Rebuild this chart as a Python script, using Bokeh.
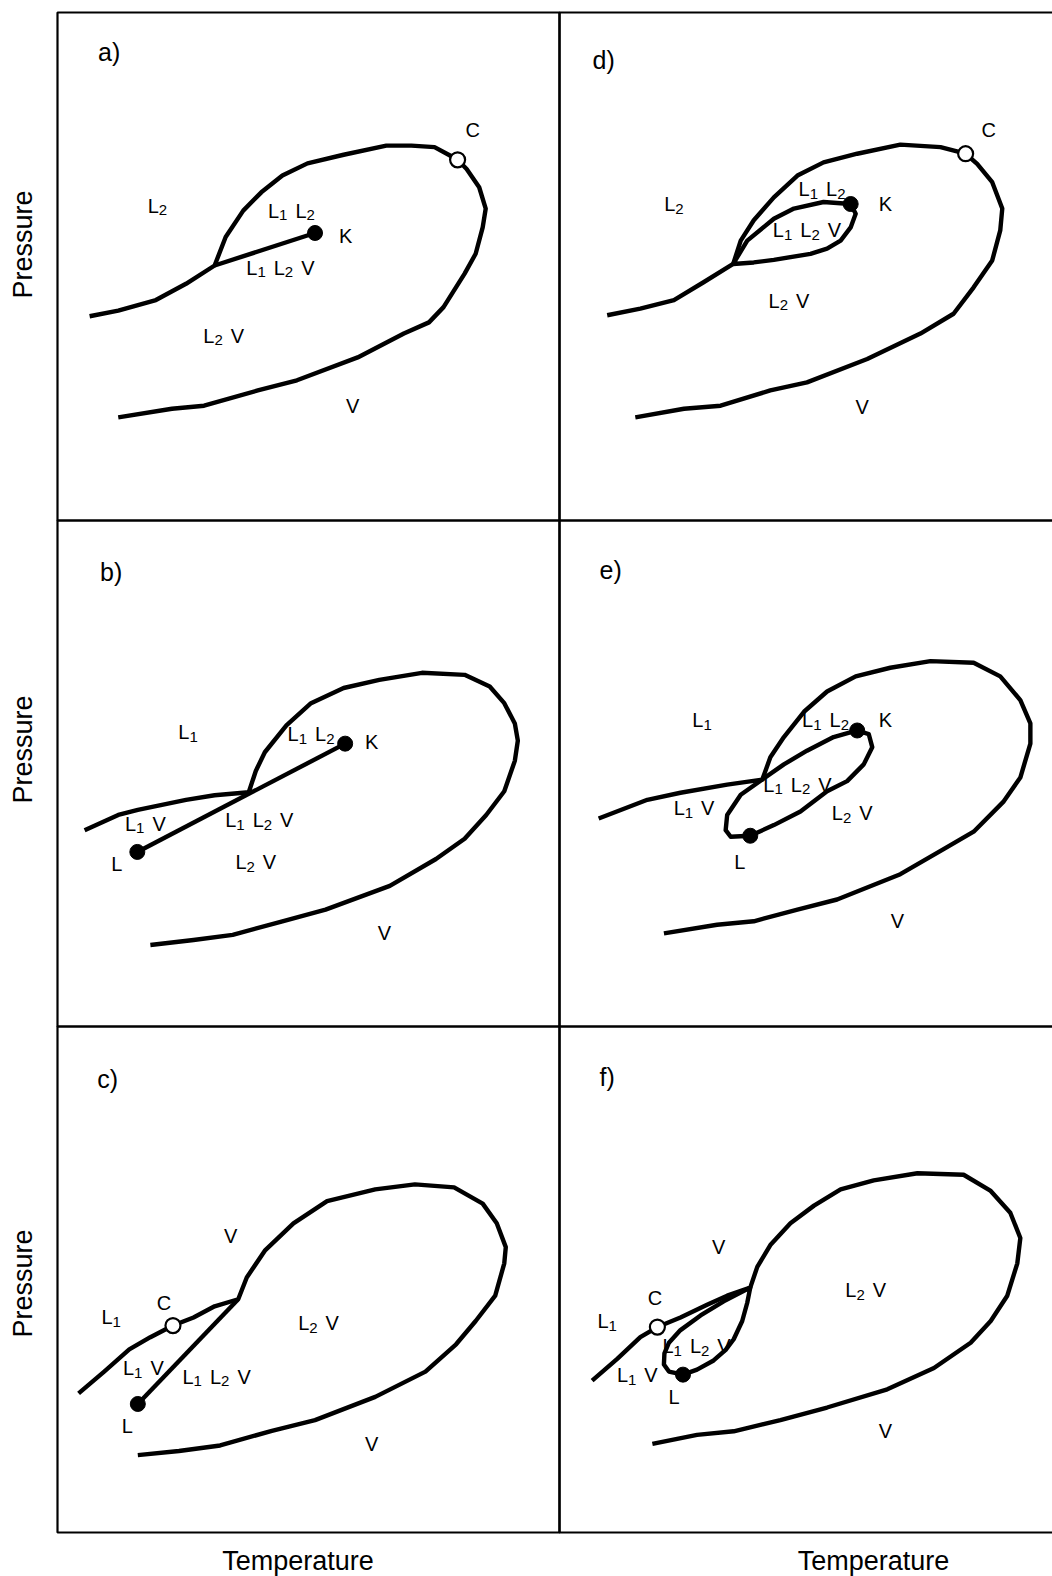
import math
from bokeh.plotting import figure
from bokeh.models import Range1d, ColumnDataSource
from bokeh.core.properties import value
from bokeh.embed import file_html
from bokeh.resources import INLINE

# Schematic P-T projections of a binary system with liquid-liquid immiscibility.
# Temperature (T) and pressure (P) are arbitrary units, 0-100 across each panel.

# ---------- a) ----------
a_env_T = [6.4, 12.1, 19.6, 25.6, 31.3, 33.5, 37.0, 40.6, 44.8, 49.8, 57.0, 65.5, 70.5, 75.1, 78.1, 79.7,
           81.5, 84.0, 85.3, 84.7, 83.3, 81.1, 76.9, 74.0, 69.0, 59.8, 47.7, 39.9, 29.2, 22.8, 12.1]
a_env_P = [40.2, 41.3, 43.4, 46.6, 50.2, 55.8, 61.0, 64.6, 67.9, 70.3, 72.0, 73.8, 73.8, 73.5, 71.9, 71.0,
           69.2, 65.6, 61.4, 57.7, 52.5, 48.6, 42.0, 39.0, 36.8, 32.1, 27.6, 25.6, 22.6, 22.0, 20.3]
a_3ph_T = [31.3, 51.3]
a_3ph_P = [50.2, 56.6]
a_open_T, a_open_P = [79.7], [71.0]
a_solid_T, a_solid_P = [51.3], [56.6]
a_lab = ["C", "L2", "L1 L2", "K", "L1 L2 V", "L2 V", "V"]
a_lab_T = [82.7, 19.9, 46.6, 57.4, 44.4, 33.1, 58.8]
a_lab_P = [76.8, 62.0, 61.0, 56.1, 49.8, 36.4, 22.6]

# ---------- b) ----------
b_env_T = [5.4, 12.1, 16.0, 25.6, 31.3, 38.1, 39.5, 41.3, 45.6, 50.5, 57.0, 64.1, 72.6, 81.1, 86.1, 89.0,
           91.1, 91.7, 91.1, 89.0, 85.4, 81.1, 75.4, 66.2, 53.4, 44.8, 34.9, 27.1, 18.5]
b_env_P = [38.8, 41.8, 42.8, 44.8, 45.7, 46.3, 50.5, 54.2, 59.5, 63.9, 66.9, 68.5, 69.9, 69.5, 67.2, 63.9,
           59.9, 56.5, 52.5, 46.5, 41.8, 37.1, 33.1, 27.8, 23.1, 20.8, 18.1, 17.1, 16.1]
b_3ph_T = [15.9, 57.3]
b_3ph_P = [34.5, 55.9]
b_open_T, b_open_P = [], []
b_solid_T, b_solid_P = [15.9, 57.3], [34.5, 55.9]
b_lab = ["L1", "L1 L2", "K", "L1 V", "L1 L2 V", "L", "L2 V", "V"]
b_lab_T = [26.0, 50.5, 62.6, 17.5, 40.2, 11.8, 39.5, 65.1]
b_lab_P = [58.2, 57.8, 56.2, 40.1, 40.8, 32.1, 32.5, 18.4]

# ---------- c) ----------
c_env_T = [4.2, 9.3, 14.3, 18.5, 23.0, 27.1, 31.3, 36.0, 37.7, 41.3, 47.0, 53.7, 63.3, 71.2, 79.0, 84.7,
           87.5, 89.3, 89.0, 87.2, 83.3, 79.4, 73.3, 63.3, 51.3, 42.7, 32.4, 24.2, 16.0]
c_env_P = [27.5, 31.8, 36.2, 38.6, 40.9, 42.5, 44.7, 46.1, 50.4, 55.7, 61.1, 65.5, 67.8, 68.8, 68.2, 65.0,
           61.1, 56.4, 53.2, 46.8, 41.8, 37.2, 31.8, 26.8, 22.2, 20.1, 17.2, 16.1, 15.3]
c_3ph_T = [16.0, 36.0]
c_3ph_P = [25.4, 46.1]
c_open_T, c_open_P = [23.0], [40.9]
c_solid_T, c_solid_P = [16.0], [25.4]
c_lab = ["V", "C", "L1", "L2 V", "L1 V", "L1 L2 V", "L", "V"]
c_lab_T = [34.5, 21.2, 10.7, 52.0, 17.1, 31.7, 13.9, 62.6]
c_lab_P = [58.6, 45.4, 42.5, 41.4, 32.5, 30.8, 21.1, 17.5]

# ---------- d) ----------
d_env_T = [9.5, 16.1, 22.8, 28.7, 34.6, 36.1, 38.7, 42.7, 47.4, 52.6, 59.3, 67.9, 75.9, 80.9, 83.2, 86.2,
           88.2, 87.8, 86.2, 82.5, 78.5, 71.9, 61.3, 49.3, 42.0, 32.1, 24.8, 15.1]
d_env_P = [40.4, 41.7, 43.4, 46.9, 50.5, 55.1, 59.1, 63.6, 67.9, 70.5, 72.2, 74.0, 73.5, 72.2, 70.2, 66.6,
           61.4, 57.1, 51.2, 45.9, 40.7, 36.8, 31.8, 27.2, 25.6, 22.6, 22.0, 20.3]
d_3ph_T = [34.6, 37.4, 42.7, 46.7, 52.6, 58.0, 59.0, 58.0, 56.0, 53.3, 50.0, 42.7, 38.7, 34.6]
d_3ph_P = [50.5, 55.1, 59.4, 61.4, 62.7, 62.3, 60.4, 57.7, 55.1, 53.5, 52.5, 51.3, 50.8, 50.5]
d_open_T, d_open_P = [80.9], [72.2]
d_solid_T, d_solid_P = [58.0], [62.3]
d_lab = ["C", "L2", "L1 L2", "K", "L1 L2 V", "L2 V", "V"]
d_lab_T = [85.5, 22.8, 52.3, 64.9, 49.3, 45.7, 60.3]
d_lab_P = [76.8, 62.3, 65.3, 62.3, 57.1, 43.3, 22.3]

# ---------- e) ----------
e_env_T = [7.8, 17.5, 24.1, 33.4, 40.4, 42.0, 44.7, 48.7, 53.3, 59.0, 65.9, 73.9, 82.5, 87.8, 91.8, 93.8,
           93.8, 91.8, 88.5, 82.5, 76.6, 67.9, 55.3, 47.4, 38.7, 31.4, 20.8]
e_env_P = [41.1, 44.8, 46.2, 47.8, 48.8, 53.2, 57.2, 62.2, 66.2, 69.2, 70.9, 72.2, 71.9, 69.2, 64.5, 59.9,
           55.9, 49.2, 44.5, 38.5, 35.1, 30.1, 25.1, 23.1, 20.8, 20.1, 18.4]
e_3ph_T = [38.0, 34.1, 33.1, 33.4, 36.1, 40.4, 44.7, 49.3, 54.6, 59.3, 61.6, 62.3, 60.6, 57.3, 53.3, 48.0,
           42.7, 38.0]
e_3ph_P = [37.7, 37.5, 38.8, 41.8, 45.8, 48.8, 51.8, 54.5, 57.2, 58.5, 57.8, 55.2, 51.8, 48.5, 46.5, 42.5,
           39.8, 37.7]
e_open_T, e_open_P = [], []
e_solid_T, e_solid_P = [38.0, 59.3], [37.7, 58.5]
e_lab = ["L1", "L1 L2", "K", "L1 L2 V", "L1 V", "L2 V", "L", "V"]
e_lab_T = [28.4, 53.0, 64.9, 47.4, 26.8, 58.3, 35.9, 67.3]
e_lab_P = [60.5, 60.5, 60.5, 47.8, 43.2, 42.2, 32.5, 20.8]

# ---------- f) ----------
f_env_T = [6.5, 11.5, 16.1, 19.5, 24.1, 29.4, 33.4, 38.0, 39.4, 42.0, 46.0, 50.7, 56.0, 62.6, 71.3, 80.5,
           85.9, 89.8, 91.8, 91.2, 89.2, 85.9, 81.9, 74.6, 65.3, 53.3, 44.0, 34.7, 27.4, 18.5]
f_env_P = [30.0, 34.3, 38.6, 40.6, 42.5, 45.0, 46.8, 48.4, 52.5, 56.8, 61.1, 64.6, 67.8, 69.6, 71.0, 70.7,
           67.5, 63.2, 58.2, 53.2, 46.8, 41.8, 37.5, 32.5, 28.3, 24.7, 22.2, 20.0, 19.3, 17.5]
f_3ph_T = [24.6, 21.8, 20.8, 20.9, 21.8, 24.1, 28.1, 32.7, 38.0, 37.4, 36.4, 34.7, 33.1, 30.7, 27.4, 24.6]
f_3ph_P = [31.2, 31.8, 33.2, 35.4, 37.5, 40.0, 42.9, 45.7, 48.4, 45.4, 41.8, 38.2, 36.1, 34.0, 32.2, 31.2]
f_open_T, f_open_P = [19.5], [40.6]
f_solid_T, f_solid_P = [24.6], [31.2]
f_lab = ["V", "C", "L1", "L2 V", "L1 L2 V", "L1 V", "L", "V"]
f_lab_T = [31.7, 19.0, 9.5, 61.0, 27.3, 15.5, 22.8, 64.9]
f_lab_P = [56.4, 46.4, 41.8, 47.9, 36.8, 31.1, 26.8, 20.0]

axis_x_title = "Temperature"
axis_y_title = "Pressure"

# ---------- page layout ----------
PAGE_W, PAGE_H = 1052, 1576
COL_X = [(57, 559), (559, 1061)]
ROW_Y = [(12, 520), (520, 1026), (1026, 1532)]

PANELS = {
    "a": (0, 0, a_env_T, a_env_P, a_3ph_T, a_3ph_P, a_open_T, a_open_P, a_solid_T, a_solid_P, a_lab, a_lab_T, a_lab_P, (10.3, 92.3)),
    "b": (0, 1, b_env_T, b_env_P, b_3ph_T, b_3ph_P, b_open_T, b_open_P, b_solid_T, b_solid_P, b_lab, b_lab_T, b_lab_P, (10.7, 89.9)),
    "c": (0, 2, c_env_T, c_env_P, c_3ph_T, c_3ph_P, c_open_T, c_open_P, c_solid_T, c_solid_P, c_lab, c_lab_T, c_lab_P, (10.0, 89.6)),
    "d": (1, 0, d_env_T, d_env_P, d_3ph_T, d_3ph_P, d_open_T, d_open_P, d_solid_T, d_solid_P, d_lab, d_lab_T, d_lab_P, (8.8, 90.6)),
    "e": (1, 1, e_env_T, e_env_P, e_3ph_T, e_3ph_P, e_open_T, e_open_P, e_solid_T, e_solid_P, e_lab, e_lab_T, e_lab_P, (10.2, 90.3)),
    "f": (1, 2, f_env_T, f_env_P, f_3ph_T, f_3ph_P, f_open_T, f_open_P, f_solid_T, f_solid_P, f_lab, f_lab_T, f_lab_P, (9.5, 90.0)),
}

FONT = "Liberation Sans"
INK = "black"
CURVE_W = 4.4
FRAME_W = 2.2

# label typesetting: letters at MAIN_PX, digits as lowered subscripts
ADV = {"L": 0.556, "V": 0.667, "K": 0.667, "C": 0.722, "1": 0.556, "2": 0.556}
MAIN_PX, SUB_PX, SPACE_PX = 20, 15, 8
SUB_DY = 3.0 + 0.347 * (MAIN_PX - SUB_PX)


def typeset(s):
    pieces, x = [], 0.0
    for ch in s:
        if ch == " ":
            x += SPACE_PX
            continue
        sub = ch.isdigit()
        pieces.append((ch, sub, x))
        x += ADV[ch] * (SUB_PX if sub else MAIN_PX)
    return [(c, sub, dx - x / 2.0) for c, sub, dx in pieces]


p = figure(width=PAGE_W, height=PAGE_H,
           x_range=Range1d(0, PAGE_W), y_range=Range1d(PAGE_H, 0),
           x_axis_type=None, y_axis_type=None,
           output_backend="svg", toolbar_location=None,
           min_border=0, outline_line_color=None,
           background_fill_color="white", border_fill_color="white")

for key, (col, row, env_T, env_P, tp_T, tp_P, o_T, o_P, s_T, s_P, lab, lab_T, lab_P, tag) in PANELS.items():
    x0, x1 = COL_X[col]
    y0, y1 = ROW_Y[row]
    kx = (x1 - x0) / 100.0
    ky = (y1 - y0) / 100.0
    p.extra_x_ranges[key] = Range1d(-x0 / kx, (PAGE_W - x0) / kx)
    p.extra_y_ranges[key] = Range1d((y1 - PAGE_H) / ky, y1 / ky)
    rn = dict(x_range_name=key, y_range_name=key)

    # panel frame
    p.quad(left=[0], right=[100], bottom=[0], top=[100], fill_color=None,
           line_color=INK, line_width=FRAME_W, **rn)

    # phase boundaries
    p.line(env_T, env_P, line_color=INK, line_width=CURVE_W, line_join="round", **rn)
    p.line(tp_T, tp_P, line_color=INK, line_width=CURVE_W, line_join="round", **rn)

    # critical end points
    if s_T:
        p.scatter(s_T, s_P, marker="circle", size=15, fill_color=INK, line_color=INK, **rn)
    if o_T:
        p.scatter(o_T, o_P, marker="circle", size=15, fill_color="white", line_color=INK,
                  line_width=2.2, **rn)

    # region labels
    main = dict(x=[], y=[], t=[], dx=[], dy=[])
    subs = dict(x=[], y=[], t=[], dx=[], dy=[])
    for s, t, pr in zip(lab, lab_T, lab_P):
        for ch, is_sub, dx in typeset(s):
            d = subs if is_sub else main
            d["x"].append(t)
            d["y"].append(pr)
            d["t"].append(ch)
            d["dx"].append(dx)
            d["dy"].append(SUB_DY if is_sub else 0.0)
    p.text(x="x", y="y", text="t", x_offset="dx", y_offset="dy",
           source=ColumnDataSource(main), text_font=value(FONT),
           text_font_size=f"{MAIN_PX}px", text_align="left", text_baseline="middle",
           text_color=INK, **rn)
    p.text(x="x", y="y", text="t", x_offset="dx", y_offset="dy",
           source=ColumnDataSource(subs), text_font=value(FONT),
           text_font_size=f"{SUB_PX}px", text_align="left", text_baseline="middle",
           text_color=INK, **rn)

    # panel tag
    p.text(x=[tag[0]], y=[tag[1]], text=[key + ")"], text_font=value(FONT),
           text_font_size="25px", text_align="center", text_baseline="middle",
           text_color=INK, **rn)

# axis titles (page coordinates)
p.text(x=[22.5, 22.5, 22.5], y=[244, 749, 1283], text=[axis_y_title] * 3,
       angle=math.pi / 2, text_font=value(FONT), text_font_size="27px",
       text_align="center", text_baseline="middle", text_color=INK)
p.text(x=[297.5, 873], y=[1560, 1560], text=[axis_x_title] * 2,
       text_font=value(FONT), text_font_size="27px",
       text_align="center", text_baseline="middle", text_color=INK)

open("out.html", "w").write(file_html(p, INLINE))
